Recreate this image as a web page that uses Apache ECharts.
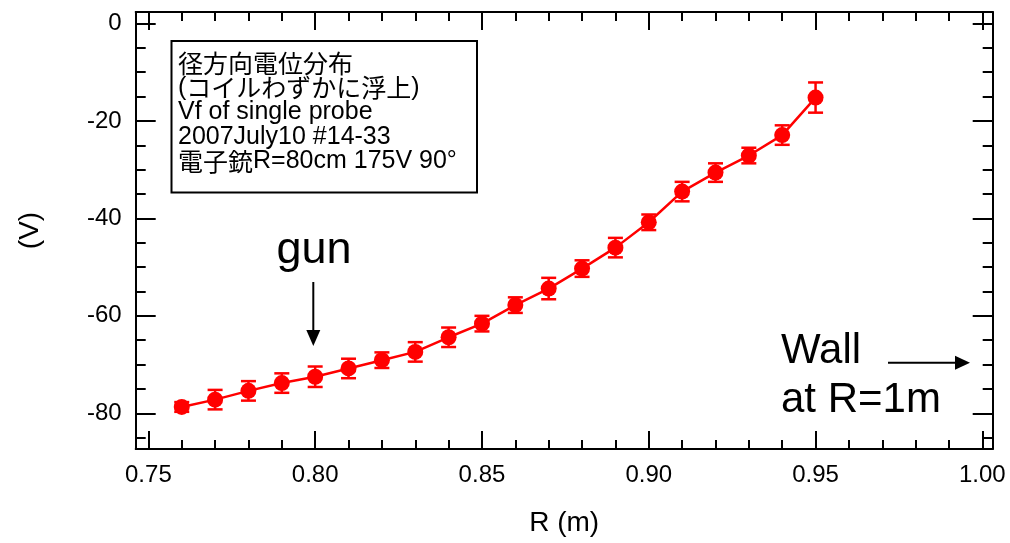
<!DOCTYPE html>
<html>
<head>
<meta charset="utf-8">
<script src="https://cdn.jsdelivr.net/npm/echarts@6/dist/echarts.min.js"></script>
<style>
  html, body { margin: 0; padding: 0; background: #ffffff; }
  #chart { width: 1010px; height: 543px; }
</style>
</head>
<body>
<div id="chart"></div>
<script>
// Floating potential of a single probe vs. major radius R
const radius = [0.76, 0.77, 0.78, 0.79, 0.80, 0.81, 0.82, 0.83, 0.84, 0.85,
                0.86, 0.87, 0.88, 0.89, 0.90, 0.91, 0.92, 0.93, 0.94, 0.95];
const potential = [-78.7, -77.2, -75.4, -73.8, -72.5, -70.8, -69.1, -67.4, -64.4, -61.6,
                   -57.8, -54.4, -50.3, -46.0, -40.8, -34.5, -30.6, -27.1, -22.9, -15.2];
const potentialErr = [1.0, 2.0, 2.0, 2.0, 2.1, 2.0, 1.6, 2.0, 2.0, 1.6,
                      1.6, 2.2, 1.7, 2.0, 1.6, 2.0, 1.9, 1.6, 2.0, 3.1];

// Tick positions
const xMajorTicks = [0.75, 0.80, 0.85, 0.90, 0.95, 1.00];
const yMajorTicks = [0, -20, -40, -60, -80];
const xMinorTicks = [];
for (let k = 76; k < 100; k++) if (k % 5 !== 0) xMinorTicks.push(k / 100);
const yMinorTicks = [];
for (let v = -5; v >= -85; v -= 5) if (v % 20 !== 0) yMinorTicks.push(v);

const FONT = '"Liberation Sans", Arial, "Noto Sans CJK JP", sans-serif';
const JFONT = '"Noto Sans CJK JP", sans-serif';
const X_MIN = 0.7462, X_MAX = 1.0031;
const Y_MIN = -87.33, Y_MAX = 2.36;

function frameAxis(base, ticks, len, withLine, withLabel, fmt) {
  return Object.assign({
    type: 'value',
    scale: true,
    splitLine: { show: false },
    axisLine: { show: withLine, onZero: false, lineStyle: { color: '#000', width: 2 } },
    axisTick: { show: true, inside: true, length: len, customValues: ticks,
                lineStyle: { color: '#000', width: 2 } },
    axisLabel: withLabel
      ? { show: true, customValues: ticks, color: '#000', fontSize: 24, fontFamily: FONT,
          margin: 14, formatter: fmt }
      : { show: false }
  }, base);
}

const xBase = { min: X_MIN, max: X_MAX };
const yBase = { min: Y_MIN, max: Y_MAX };

const option = {
  animation: false,
  backgroundColor: '#ffffff',
  grid: { left: 135.7, right: 17.3, top: 12, bottom: 94, containLabel: false },
  xAxis: [
    frameAxis(Object.assign({ position: 'bottom', name: 'R (m)', nameLocation: 'middle', nameGap: 60,
      nameTextStyle: { color: '#000', fontSize: 28, fontFamily: FONT } }, xBase),
      xMajorTicks, 18, true, true, v => v.toFixed(2)),
    frameAxis(Object.assign({ position: 'top' }, xBase), xMajorTicks, 18, true, false),
    frameAxis(Object.assign({ position: 'top' }, xBase), xMinorTicks, 9, false, false),
    frameAxis(Object.assign({ position: 'bottom' }, xBase), xMinorTicks, 9, false, false)
  ],
  yAxis: [
    frameAxis(Object.assign({ position: 'left', name: '(V)', nameLocation: 'middle', nameGap: 91,
      nameTextStyle: { color: '#000', fontSize: 28, fontFamily: FONT } }, yBase),
      yMajorTicks, 20, true, true, v => String(v)),
    frameAxis(Object.assign({ position: 'right' }, yBase), yMajorTicks, 20, true, false),
    frameAxis(Object.assign({ position: 'right' }, yBase), yMinorTicks, 10, false, false),
    frameAxis(Object.assign({ position: 'left' }, yBase), yMinorTicks, 10, false, false)
  ],
  series: [
    {
      type: 'custom',
      name: 'error',
      xAxisIndex: 0,
      yAxisIndex: 0,
      z: 3,
      data: radius.map((r, i) => [r, potential[i] - potentialErr[i], potential[i] + potentialErr[i]]),
      renderItem: function (params, api) {
        const lo = api.coord([api.value(0), api.value(1)]);
        const hi = api.coord([api.value(0), api.value(2)]);
        const hw = 7.5;
        const st = { stroke: '#ff0000', lineWidth: 2.5 };
        return {
          type: 'group',
          children: [
            { type: 'line', shape: { x1: lo[0], y1: lo[1], x2: hi[0], y2: hi[1] }, style: st },
            { type: 'line', shape: { x1: lo[0] - hw, y1: lo[1], x2: lo[0] + hw, y2: lo[1] }, style: st },
            { type: 'line', shape: { x1: hi[0] - hw, y1: hi[1], x2: hi[0] + hw, y2: hi[1] }, style: st }
          ]
        };
      }
    },
    {
      type: 'line',
      name: 'Vf',
      xAxisIndex: 0,
      yAxisIndex: 0,
      z: 4,
      data: radius.map((r, i) => [r, potential[i]]),
      symbol: 'circle',
      symbolSize: 16,
      lineStyle: { color: '#ff0000', width: 2.5 },
      itemStyle: { color: '#ff0000' }
    }
  ],
  graphic: [
    {
      type: 'rect',
      shape: { x: 171.5, y: 41, width: 305.5, height: 151.5 },
      style: { fill: '#ffffff', stroke: '#000', lineWidth: 2 },
      z: 10
    },
    {
      type: 'text',
      x: 178, y: 51,
      z: 11,
      style: {
        text: '{j|径方向電位分布}\n({j|コイルわずかに浮上})\nVf of single probe\n2007July10 #14-33\n{j|電子銃}R=80cm 175V 90°',
        font: '25px ' + FONT,
        lineHeight: 24.5,
        fill: '#000',
        verticalAlign: 'top',
        rich: {
          j: { font: '25px ' + JFONT, lineHeight: 24.5, fill: '#000' }
        }
      }
    },
    {
      type: 'text',
      x: 314, y: 251,
      z: 11,
      style: { text: 'gun', font: '45px ' + FONT, fill: '#000', align: 'center', verticalAlign: 'middle' }
    },
    {
      type: 'line',
      shape: { x1: 313.3, y1: 282, x2: 313.3, y2: 334 },
      style: { stroke: '#000', lineWidth: 2 },
      z: 11
    },
    {
      type: 'polygon',
      shape: { points: [[306.3, 330], [320.3, 330], [313.3, 346]] },
      style: { fill: '#000' },
      z: 11
    },
    {
      type: 'text',
      x: 781, y: 351,
      z: 11,
      style: { text: 'Wall', font: '42px ' + FONT, fill: '#000', verticalAlign: 'middle' }
    },
    {
      type: 'text',
      x: 781, y: 400,
      z: 11,
      style: { text: 'at R=1m', font: '42px ' + FONT, fill: '#000', verticalAlign: 'middle' }
    },
    {
      type: 'line',
      shape: { x1: 888, y1: 362.7, x2: 958, y2: 362.7 },
      style: { stroke: '#000', lineWidth: 2 },
      z: 11
    },
    {
      type: 'polygon',
      shape: { points: [[955, 355.7], [955, 369.7], [970, 362.7]] },
      style: { fill: '#000' },
      z: 11
    }
  ]
};

const chart = echarts.init(document.getElementById('chart'), null, { renderer: 'canvas' });
chart.setOption(option);
</script>
</body>
</html>
